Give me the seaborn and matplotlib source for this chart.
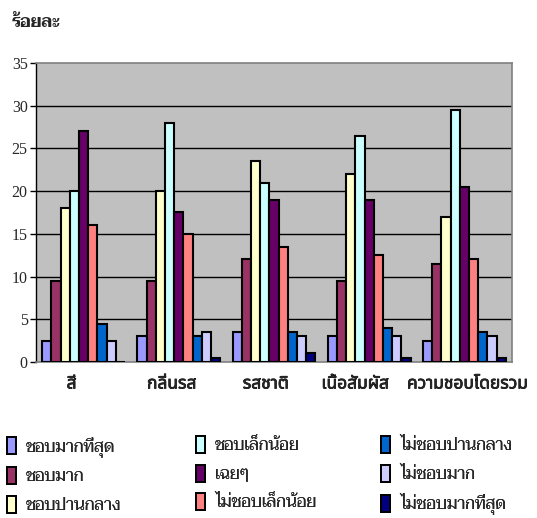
import matplotlib
matplotlib.use("Agg")
import matplotlib.pyplot as plt
from matplotlib.patches import Patch
from matplotlib.transforms import ScaledTranslation
import matplotlib.patheffects as pe
import seaborn as sns
import pandas as pd

# Attributes evaluated and the nine liking levels of the hedonic scale
categories = ["สี", "กลิ่นรส", "รสชาติ", "เนื้อสัมผัส", "ความชอบโดยรวม"]
levels = ["ชอบมากที่สุด", "ชอบมาก", "ชอบปานกลาง",
          "ชอบเล็กน้อย", "เฉยๆ", "ไม่ชอบเล็กน้อย",
          "ไม่ชอบปานกลาง", "ไม่ชอบมาก", "ไม่ชอบมากที่สุด"]

# Percentage of panelists per level, one list per attribute
color_pct = [2.5, 9.5, 18.0, 20.0, 27.0, 16.0, 4.5, 2.5, 0.0]
flavor_pct = [3.0, 9.5, 20.0, 28.0, 17.5, 15.0, 3.0, 3.5, 0.5]
taste_pct = [3.5, 12.0, 23.5, 21.0, 19.0, 13.5, 3.5, 3.0, 1.0]
texture_pct = [3.0, 9.5, 22.0, 26.5, 19.0, 12.5, 4.0, 3.0, 0.5]
overall_pct = [2.5, 11.5, 17.0, 29.5, 20.5, 12.0, 3.5, 3.0, 0.5]

y_ticks = [0, 5, 10, 15, 20, 25, 30, 35]
y_label = "ร้อยละ"

palette = ["#9999FF", "#993366", "#FFFFCC", "#CCFFFF", "#660066",
           "#FF8080", "#0066CC", "#CCCCFF", "#000080"]

rows = []
for cat, vals in zip(categories, [color_pct, flavor_pct, taste_pct,
                                  texture_pct, overall_pct]):
    for lvl, v in zip(levels, vals):
        rows.append({"attribute": cat, "level": lvl, "percent": v})
df = pd.DataFrame(rows)

sns.set_style("white")
plt.rcParams["font.family"] = ["Liberation Serif", "Taviraj"]

fig = plt.figure(figsize=(5.37, 5.18), dpi=100)
ax = fig.add_axes([0.067, 0.3012, 0.8864, 0.5772])
ax.set_facecolor("#C0C0C0")

sns.barplot(data=df, x="attribute", y="percent", hue="level",
            order=categories, hue_order=levels, palette=palette,
            saturation=1, width=0.87, edgecolor="black", linewidth=1.5,
            legend=False, ax=ax, zorder=3)

ax.set_ylim(0, 35)
ax.set_xlim(-0.5, len(categories) - 0.5)
ax.set_yticks(y_ticks)
ax.set_yticklabels([str(t) for t in y_ticks], fontsize=11.5)
for t in y_ticks[1:-1]:
    ax.axhline(t, color="black", lw=1.0, zorder=1)

ax.set_xlabel("")
ax.set_ylabel("")
ax.tick_params(axis="x", length=0, pad=9)
ax.tick_params(axis="y", length=4, width=1, color="black", pad=2,
               direction="out", left=True)

# category labels: heavy sans Thai, nudged horizontally in pixels
label_shift_px = [-12, -7, -8, -14, 3]
for lab, dx in zip(ax.get_xticklabels(), label_shift_px):
    lab.set_family(["Noto Sans Thai", "DejaVu Sans"])
    lab.set_fontsize(12.5)
    lab.set_fontweight("bold")
    lab.set_path_effects([pe.withStroke(linewidth=0.5, foreground="black")])
    lab.set_transform(lab.get_transform()
                      + ScaledTranslation(dx / 100, 0, fig.dpi_scale_trans))

for side in ["top", "right", "bottom"]:
    ax.spines[side].set_color("#808080")
    ax.spines[side].set_linewidth(1.2)
ax.spines["left"].set_color("black")
ax.spines["left"].set_linewidth(1.0)

fig.text(12 / 537, 1 - 23 / 518, y_label, fontsize=12, fontweight="bold",
         va="center", ha="left")

# Legend split into three columns of three entries
col_x = [7 / 537, 196 / 537, 381 / 537]
for c in range(3):
    handles = [Patch(facecolor=palette[i], edgecolor="black", linewidth=1.4,
                     label=levels[i]) for i in range(c * 3, c * 3 + 3)]
    leg = fig.legend(handles=handles, loc="upper left",
                     bbox_to_anchor=(col_x[c], 1 - 436 / 518),
                     frameon=False, fontsize=12, handlelength=0.55,
                     handleheight=1.2, handletextpad=0.6, labelspacing=0.62,
                     borderaxespad=0, borderpad=0)
    fig.add_artist(leg)

fig.savefig("out.png")
